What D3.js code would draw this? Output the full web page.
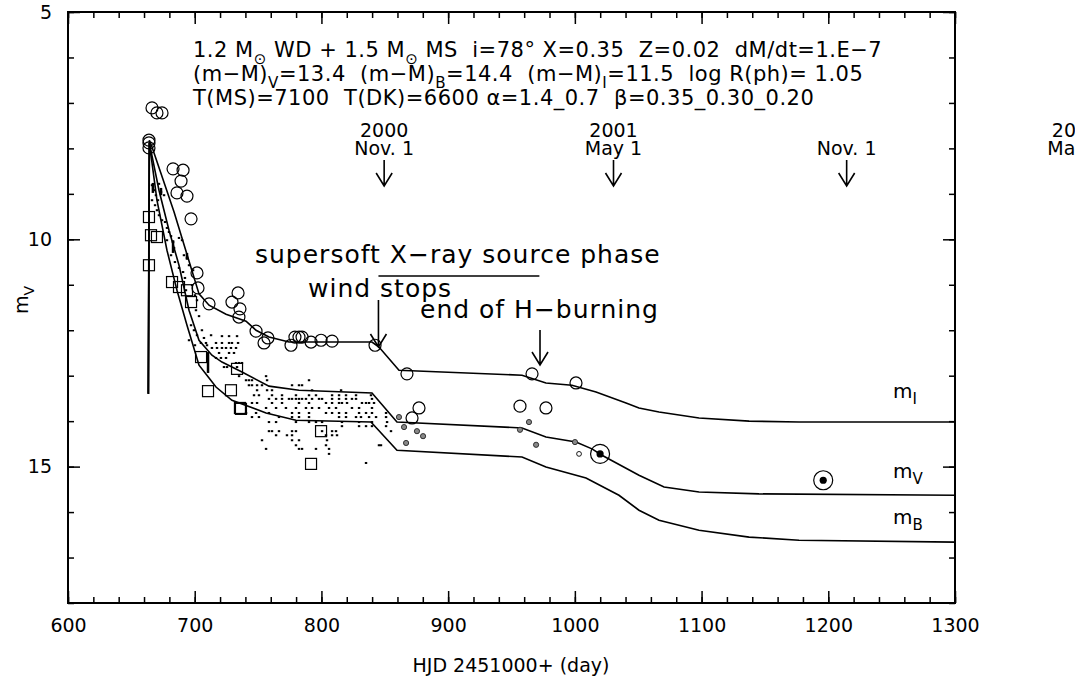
<!DOCTYPE html>
<html>
<head>
<meta charset="utf-8">
<script src="https://cdn.jsdelivr.net/npm/d3@7"></script>
<style>
body { margin: 0; background: #fff; }
svg { font-family: "DejaVu Sans", sans-serif; }
text { white-space: pre; }
</style>
</head>
<body>
<script>
// model light curves [day, mag]
const curveI = [[663.2,13.4],[664.2,7.82],[666.3,7.97],[683.7,9.40],[703.4,11.2],[711.3,11.45],[724.7,11.65],[740.5,11.8],[748.4,12.0],[758.6,12.15],[774.4,12.26],[839.9,12.26],[845.4,12.37],[861.2,12.88],[958.3,12.99],[977.2,13.16],[997.7,13.21],[1016.7,13.36],[1040.4,13.6],[1050.6,13.71],[1066.4,13.8],[1098,13.93],[1137.5,14.0],[1177,14.02],[1300,14.02]]
const curveV = [[663.4,13.4],[664.2,7.88],[671.8,8.92],[679.7,9.8],[687.6,10.57],[695.5,11.56],[703.4,12.22],[713.6,12.55],[721.5,12.7],[737.3,12.92],[758.6,13.23],[782.3,13.32],[839.9,13.38],[859.6,14.02],[958.3,14.15],[977.2,14.35],[1000.9,14.46],[1013.5,14.61],[1021.4,14.75],[1050.6,15.19],[1070.4,15.45],[1098,15.56],[1145.3,15.6],[1300,15.63]]
const curveB = [[663.6,13.4],[664.2,7.88],[670.2,9.14],[678.1,10.24],[686,11.12],[693.9,11.89],[703.4,12.77],[711.3,13.05],[716.8,13.25],[729.4,13.54],[756.3,13.82],[779.9,13.98],[839.1,14.02],[859.6,14.64],[958.3,14.79],[977.2,15.01],[1008.8,15.25],[1034.8,15.63],[1050.6,15.96],[1066.4,16.18],[1098,16.4],[1137.5,16.55],[1176.9,16.62],[1300,16.66]]

// observations
const obsI = [[663.9,7.82],[663.9,7.88],[663.9,7.99],[666.3,7.11],[670.2,7.22],[674.2,7.22],[682.9,8.45],[690.8,8.48],[689.2,8.72],[686,8.98],[693.9,9.05],[697.1,9.55],[701.8,10.74],[702.6,11.07],[711.3,11.42],[734.2,11.18],[729.4,11.38],[735.7,11.53],[734.9,11.71],[748.4,12.02],[754.7,12.28],[757.8,12.17],[776,12.33],[779.1,12.15],[782.3,12.15],[784.7,12.15],[791.8,12.26],[799.7,12.22],[808.4,12.24],[842.3,12.33],[867.5,12.96],[877,13.71],[871.5,13.93],[956.7,13.67],[966.2,12.96],[977.2,13.71],[1000.9,13.16]]
const obsSquare = [[663.9,9.51],[665.5,9.91],[670.2,9.95],[663.9,10.57],[682.1,10.94],[687.6,11.05],[693.9,11.12],[697.1,11.38],[705,12.59],[733.4,12.85],[710.5,13.34],[728.6,13.32],[735.7,13.71],[736.5,13.73],[799.7,14.22],[791.8,14.94]]
const obsGrey = [[861.2,13.91],[865.2,14.13],[875.4,14.22],[880.2,14.33],[866.8,14.48],[963.8,14.02],[956.7,14.19],[969.4,14.52],[1000.1,14.46]]
const obsSmallOpen = [[1003.3,14.72]]
const obsBig = [[1019.9,14.72],[1196,15.3]]

// dense small points: magnitude rows and early scatter
const dotRowMags = [12.13,12.28,12.39,12.5,12.61,12.72,12.81,13.01,13.1,13.21,13.32,13.43,13.51,13.6,13.71,13.82,13.91,14.02,14.11,14.22,14.31,14.42,14.53,14.61,14.72,14.92]
const dotRowDays = [
  [721.5,727.1,733.4],
  [704.9,708.9,716.8,721.5,727.1,729.4,734.2],
  [713.6,717.6,721.5,724.7,728.6,732.6],
  [719.2,727.1,731],
  [716.8,720.7,724.7],
  [732.6,735,737.3],
  [723.1,725.5,733.4],
  [735,756.3],
  [740.5,742.8,745.2,757.1,790.2],
  [742.8,745.2,749.2,753.1,776.8,782.3,784.7],
  [749.2,757.1,761,792.6,815.5],
  [746.8,750.7,761,768.9,779.9,790.2,795.7,808.4,813.9,819.4,827.3,839.1],
  [758.6,764.2,768.9,774.4,776.8,779.9,782.3,784.7,787.8,792.6,798.1,800.5,808.4,813.9,819.4,824.1,827.3,839.9],
  [745.2,749.2,761,768.9,782.3,790.2,803.6,808.4,813.9,816.2,820.2,832,835.2,837.6,841.5],
  [756.3,764.2,772,779.9,787.8,792.6,798.1,806,811.5,824.1,829.7,839.9],
  [740.5,748.4,758.6,776.8,782.3,790.2,803.6,808.4,813.9,819.4,829.7,835.2,839.9,851],
  [745.2,750.7,766.5,776.8,782.3,790.2,813.9,819.4,827.3,831.2,837.6,843.1,851],
  [758.6,764.2,779.9,790.2,795.7,800.5,816.2,829.7,839.9,851.8],
  [816.2,829.7,835.2,839.9,851],
  [758.6,761,766.5,776.8,779.9,800.5,808.4,811.5,854.9],
  [764.2,772.8,776.8,803.6,808.4,812.3],
  [753.1,776.8,782.3,804.4],
  [779.9,803.6,845.4,847],
  [756.3,782.3,784.7,795.7,806],
  [806],
  [835.2]
]
const earlyDots = [[666.3,8.81],[667.9,8.92],[669.4,9.03],[666.3,9.14],[668.7,9.25],[670.2,9.36],[671.8,8.78],[673.4,8.96],[671,9.14],[675.8,9.03],[671.8,9.47],[674.2,9.58],[676.6,9.62],[678.1,9.75],[679.7,9.84],[681.3,9.93],[678.1,10.02],[682.9,10.06],[683.7,10.19],[687.6,9.97],[690,10.02],[691.5,10.35],[693.9,10.41],[681.3,10.35],[684.4,10.5],[687.6,10.63],[690.8,10.72],[692.3,10.85],[695.5,10.57],[698.7,10.68],[700.2,11.23],[701.8,11.34],[701,11.56],[703.4,11.69],[697.9,11.01],[693.1,11.12],[697.1,11.89],[699.4,12.0],[701.8,12.11],[705.7,12.0],[707.3,12.17],[695.5,12.22],[700.2,12.33],[709.7,12.33],[712.9,12.11]]
// short vertical dashes [day, mag1, mag2]
const dashes = [[667,8.76,8.98],[673.4,8.87,9.03],[682.9,10.02,10.3],[693.9,10.3,10.45],[710.5,12.48,12.94]]

// calendar marks on top
const dateDays = [849.5, 1030.5, 1214.5, 1395.5]
const dateYears = ["2000", "2001", "", "2002"]
const dateLabels = ["Nov. 1", "May 1", "Nov. 1", "May 1"]

// phase annotations
const windStopDay = 845
const hEndDay = 972.5
const ssPhase = [845, 972]

const xMajor = d3.range(600, 1301, 100)
const xMinor = d3.range(600, 1301, 20)
const yMajor = [5, 10, 15]
const yMinor = d3.range(5, 18.01, 1)

const W = 1075, H = 685
const x = d3.scaleLinear().domain([600, 1300]).range([68, 955])
const y = d3.scaleLinear().domain([5, 18]).range([12, 603])

const svg = d3.select("body").append("svg")
    .attr("width", W)
    .attr("height", H)

// ticks (pointing inward)
function tickAxis(axis, size, pos, labels) {
    const g = svg.append("g").attr("transform", pos).call(axis.tickSize(size))
    g.select(".domain").remove()
    g.selectAll("line").attr("stroke", "#000").attr("stroke-width", 1.5)
    if (!labels) g.selectAll("text").remove()
    return g
}
tickAxis(d3.axisBottom(x).tickValues(xMinor).tickFormat(""), -6, `translate(0,603)`)
tickAxis(d3.axisTop(x).tickValues(xMinor).tickFormat(""), -6, `translate(0,12)`)
tickAxis(d3.axisTop(x).tickValues(xMajor).tickFormat(""), -12, `translate(0,12)`)
const gx = tickAxis(d3.axisBottom(x).tickValues(xMajor).tickFormat(d3.format("d")).tickPadding(16), -12, `translate(0,603)`, true)
gx.selectAll("text").attr("font-size", 19).attr("font-family", "DejaVu Sans").attr("fill", "#000")

tickAxis(d3.axisLeft(y).tickValues(yMinor).tickFormat(""), -6, `translate(68,0)`)
tickAxis(d3.axisRight(y).tickValues(yMinor).tickFormat(""), -6, `translate(955,0)`)
tickAxis(d3.axisRight(y).tickValues(yMajor).tickFormat(""), -12, `translate(955,0)`)
const gy = tickAxis(d3.axisLeft(y).tickValues(yMajor).tickPadding(16), -12, `translate(68,0)`, true)
gy.selectAll("text").attr("font-size", 19).attr("font-family", "DejaVu Sans").attr("fill", "#000")

// frame
svg.append("rect")
    .attr("x", 68).attr("y", 12)
    .attr("width", 887).attr("height", 591)
    .attr("fill", "none").attr("stroke", "#000").attr("stroke-width", 2)

// text with subscripts: parts = [text, isSub]
function richText(px, py, parts, size, spacing) {
    const t = svg.append("text").attr("x", px).attr("y", py)
        .attr("font-size", size).attr("letter-spacing", spacing || 0)
    let down = false
    const shift = size * 0.32
    parts.forEach(p => {
        const s = t.append("tspan").text(p[0])
        if (p[1] && !down) { s.attr("dy", shift).attr("font-size", size * 0.72); down = true }
        else if (p[1]) { s.attr("font-size", size * 0.72) }
        else if (down) { s.attr("dy", -shift); down = false }
    })
    return t
}

// axis titles
svg.append("text")
    .attr("x", 511).attr("y", 672)
    .attr("text-anchor", "middle").attr("font-size", 19)
    .text("HJD 2451000+ (day)")

const ylab = svg.append("text")
    .attr("transform", "translate(28,300) rotate(-90)")
    .attr("text-anchor", "middle").attr("font-size", 19)
ylab.append("tspan").text("m")
ylab.append("tspan").attr("font-size", 14).attr("dy", 6).text("V")

// model curves
const line = d3.line().x(d => x(d[0])).y(d => y(d[1]))
;[curveI, curveV, curveB].forEach(c => {
    svg.append("path").datum(c)
        .attr("d", line)
        .attr("fill", "none").attr("stroke", "#000").attr("stroke-width", 1.6)
})

// small dots
const rowDots = dotRowMags.flatMap((m, i) => dotRowDays[i].map(d => [d, m]))
svg.selectAll(".dot").data(rowDots.concat(earlyDots)).join("rect")
    .attr("class", "dot")
    .attr("x", d => x(d[0]) - 1.2).attr("y", d => y(d[1]) - 1)
    .attr("width", 2.4).attr("height", 2).attr("fill", "#000")

svg.selectAll(".dash").data(dashes).join("line")
    .attr("class", "dash")
    .attr("x1", d => x(d[0])).attr("x2", d => x(d[0]))
    .attr("y1", d => y(d[1])).attr("y2", d => y(d[2]))
    .attr("stroke", "#000").attr("stroke-width", 2.5)

// open circles
svg.selectAll(".oc").data(obsI).join("circle")
    .attr("class", "oc")
    .attr("cx", d => x(d[0])).attr("cy", d => y(d[1]))
    .attr("r", 6).attr("fill", "none").attr("stroke", "#000").attr("stroke-width", 1.2)

// squares
svg.selectAll(".sq").data(obsSquare).join("rect")
    .attr("class", "sq")
    .attr("x", d => x(d[0]) - 5.5).attr("y", d => y(d[1]) - 5.5)
    .attr("width", 11).attr("height", 11)
    .attr("fill", "none").attr("stroke", "#000").attr("stroke-width", 1.2)

// grey filled dots
svg.selectAll(".gd").data(obsGrey).join("circle")
    .attr("class", "gd")
    .attr("cx", d => x(d[0])).attr("cy", d => y(d[1]))
    .attr("r", 2.6).attr("fill", "#888").attr("stroke", "#222").attr("stroke-width", 0.9)

svg.selectAll(".so").data(obsSmallOpen).join("circle")
    .attr("class", "so")
    .attr("cx", d => x(d[0])).attr("cy", d => y(d[1]))
    .attr("r", 2.4).attr("fill", "#fff").attr("stroke", "#000").attr("stroke-width", 0.9)

// big circled dots
const big = svg.selectAll(".big").data(obsBig).join("g").attr("class", "big")
    .attr("transform", d => `translate(${x(d[0])},${y(d[1])})`)
big.append("circle").attr("r", 9.5).attr("fill", "none").attr("stroke", "#000").attr("stroke-width", 1.2)
big.append("circle").attr("r", 3.6).attr("fill", "#000")

// arrows
function arrow(px, y1, y2) {
    svg.append("path")
        .attr("d", `M${px},${y1}V${y2}M${px - 8},${y2 - 13}L${px},${y2}L${px + 8},${y2 - 13}`)
        .attr("fill", "none").attr("stroke", "#000").attr("stroke-width", 1.6)
}

// calendar marks
dateDays.forEach((d, i) => {
    const px = x(d)
    svg.append("text").attr("x", px).attr("y", 137)
        .attr("text-anchor", "middle").attr("font-size", 19).text(dateYears[i])
    svg.append("text").attr("x", px).attr("y", 155)
        .attr("text-anchor", "middle").attr("font-size", 19).text(dateLabels[i])
    if (d <= 1300) arrow(px, 160, 186)
})

// header text
richText(193, 57, [["1.2 M"], ["\u2299", 1], [" WD + 1.5 M"], ["\u2299", 1], [" MS  i=78\u00b0 X=0.35  Z=0.02  dM/dt=1.E\u22127"]], 21, 0.5)
richText(193, 81, [["(m\u2212M)"], ["V", 1], ["=13.4  (m\u2212M)"], ["B", 1], ["=14.4  (m\u2212M)"], ["I", 1], ["=11.5  log R(ph)= 1.05"]], 21, 0.5)
richText(193, 105, [["T(MS)=7100  T(DK)=6600 \u03b1=1.4_0.7  \u03b2=0.35_0.30_0.20"]], 21, 0.5)

// phase annotations
svg.append("text").attr("x", 255).attr("y", 263).attr("font-size", 25)
    .attr("letter-spacing", 1).text("supersoft X\u2212ray source phase")
svg.append("line")
    .attr("x1", x(ssPhase[0])).attr("x2", x(ssPhase[1]))
    .attr("y1", 276).attr("y2", 276)
    .attr("stroke", "#000").attr("stroke-width", 1.5)
svg.append("text").attr("x", 308).attr("y", 297).attr("font-size", 25)
    .attr("letter-spacing", 1).text("wind stops")
arrow(x(windStopDay), 300, 347)
svg.append("text").attr("x", 420).attr("y", 318).attr("font-size", 25)
    .attr("letter-spacing", 1).text("end of H\u2212burning")
arrow(x(hEndDay), 330, 365)

// curve labels
const curveNames = ["I", "V", "B"]
const labelY = [398, 478, 524]
curveNames.forEach((c, i) => {
    const t = svg.append("text").attr("x", 893).attr("y", labelY[i]).attr("font-size", 20)
    t.append("tspan").text("m")
    t.append("tspan").attr("dy", 6).attr("font-size", 15).text(c)
})
</script>
</body>
</html>
